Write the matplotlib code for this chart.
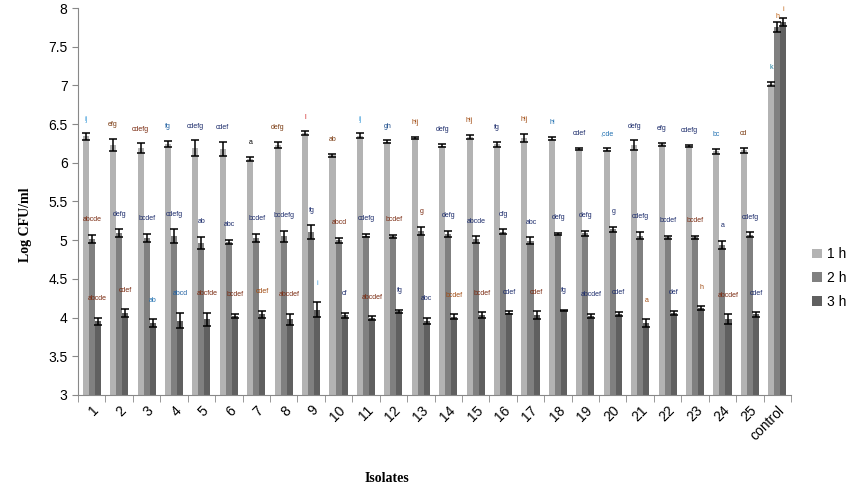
import numpy as np
import matplotlib.pyplot as plt
from matplotlib.ticker import MultipleLocator, FixedLocator

isolates = [str(i) for i in range(1, 26)] + ['control']

h1 = [6.34, 6.23, 6.19, 6.24, 6.19, 6.18, 6.05, 6.23, 6.38, 6.10, 6.35, 6.27, 6.32,
      6.22, 6.33, 6.24, 6.32, 6.31, 6.18, 6.17, 6.23, 6.24, 6.22, 6.15, 6.16, 7.02]
h1_err = [0.04, 0.08, 0.06, 0.04, 0.10, 0.09, 0.025, 0.045, 0.025, 0.02, 0.03, 0.02, 0.015,
          0.02, 0.025, 0.03, 0.05, 0.02, 0.01, 0.02, 0.06, 0.02, 0.01, 0.03, 0.03, 0.03]
h2 = [5.02, 5.09, 5.03, 5.05, 4.96, 4.98, 5.03, 5.05, 5.10, 5.00, 5.06, 5.05, 5.12,
      5.08, 5.01, 5.11, 4.99, 5.08, 5.09, 5.14, 5.06, 5.04, 5.04, 4.94, 5.07, 7.75]
h2_err = [0.05, 0.05, 0.05, 0.09, 0.08, 0.025, 0.05, 0.07, 0.09, 0.03, 0.02, 0.02, 0.05,
          0.04, 0.04, 0.03, 0.045, 0.015, 0.03, 0.03, 0.045, 0.02, 0.02, 0.055, 0.03, 0.065]
h3 = [3.95, 4.06, 3.93, 3.96, 3.98, 4.02, 4.04, 3.98, 4.10, 4.03, 3.99, 4.08, 3.96,
      4.01, 4.03, 4.06, 4.03, 4.09, 4.02, 4.05, 3.93, 4.06, 4.12, 3.98, 4.04, 7.82]
h3_err = [0.05, 0.05, 0.05, 0.10, 0.085, 0.03, 0.05, 0.07, 0.095, 0.03, 0.025, 0.02, 0.04,
          0.03, 0.04, 0.02, 0.05, 0.01, 0.03, 0.025, 0.05, 0.025, 0.025, 0.065, 0.03, 0.055]

lab1 = ['ij', 'efg', 'cdefg', 'fg', 'cdefg', 'cdef', 'a', 'defg', 'l', 'ab', 'ij', 'gh', 'hij',
        'defg', 'hij', 'fg', 'hij', 'hi', 'cdef', ',cde', 'defg', 'efg', 'cdefg', 'bc', 'cd', 'k']
lab2 = ['abcde', 'defg', 'bcdef', 'cdefg', 'ab', 'abc', 'bcdef', 'bcdefg', 'fg', 'abcd', 'cdefg',
        'bcdef', 'g', 'defg', 'abcde', 'cfg', 'abc', 'defg', 'defg', 'g', 'cdefg', 'bcdef',
        'bcdef', 'a', 'cdefg', 'h']
lab3 = ['abcde', 'cdef', 'ab', 'abcd', 'abcfde', 'bcdef', 'cdef', 'abcdef', 'i', 'cf', 'abcdef',
        'fg', 'abc', 'bcdef', 'bcdef', 'cdef', 'cdef', 'fg', 'abcdef', 'cdef', 'a', 'def', 'h',
        'abcdef', 'cdef', 'i']

col1 = ['#3a9ad9', '#7a3a10', '#7a2a10', '#1f5fa0', '#1a2a6a', '#1a2a6a', '#000000', '#7a3a10',
        '#d02020', '#7a3a10', '#3a9ad9', '#1a4a8a', '#a04a10', '#1a2a6a', '#a04a10', '#1a2a6a',
        '#a04a10', '#1f6fb0', '#1a2a6a', '#1f6fb0', '#1a2a6a', '#1a2a6a', '#1a2a6a', '#1f6fb0',
        '#7a3a10', '#1a7a9a']
col2 = ['#7a2a10', '#1a2a6a', '#1a2a6a', '#1a2a6a', '#1a2a6a', '#1a2a6a', '#1a2a6a', '#1a2a6a',
        '#1a2a6a', '#7a2a10', '#1a2a6a', '#7a2a10', '#7a2a10', '#1a2a6a', '#1a2a6a', '#1a2a6a',
        '#1a2a6a', '#1a2a6a', '#1a2a6a', '#1a2a6a', '#1a2a6a', '#1a2a6a', '#7a2a10', '#1a2a6a',
        '#1a2a6a', '#c06010']
col3 = ['#7a2a10', '#7a2a10', '#1f6fb0', '#1f5fa0', '#7a2a10', '#7a2a10', '#a04a10', '#7a2a10',
        '#3a9ad9', '#1a2a6a', '#7a2a10', '#1a2a6a', '#1a2a6a', '#a04a10', '#7a2a10', '#1a2a6a',
        '#7a2a10', '#1a2a6a', '#1a2a6a', '#1a2a6a', '#a04a10', '#1a2a6a', '#a04a10', '#7a2a10',
        '#1a2a6a', '#c06010']

plt.rcParams['font.family'] = ['Liberation Sans', 'DejaVu Sans']

fig = plt.figure(figsize=(8.46, 4.88), dpi=100)
ax = fig.add_axes([0.0922, 0.1906, 0.8428, 0.793])

x = np.arange(len(isolates))
w = 0.22
ekw = dict(ecolor='black', elinewidth=1.1, capsize=2.6, capthick=1.1)
ax.bar(x - w, h1, w, yerr=h1_err, color='#b3b3b3', label='1 h', error_kw=ekw)
ax.bar(x, h2, w, yerr=h2_err, color='#808080', label='2 h', error_kw=ekw)
ax.bar(x + w, h3, w, yerr=h3_err, color='#606060', label='3 h', error_kw=ekw)

# significance letters above each bar (kept inside the top of the figure)
for i in range(len(isolates)):
    ax.text(x[i] - w, h1[i] + h1_err[i] + 0.14, lab1[i], fontsize=5, color=col1[i],
            ha='center', va='bottom', clip_on=False)
    ax.text(x[i] + 0.02, min(h2[i] + h2_err[i] + 0.15, 7.84), lab2[i], fontsize=5,
            color=col2[i], ha='center', va='bottom', clip_on=False)
    ax.text(x[i] + w, min(h3[i] + h3_err[i] + 0.2, 7.93), lab3[i], fontsize=5, color=col3[i],
            ha='center', va='bottom', clip_on=False)

ax.set_xlim(-0.5, len(isolates) - 0.5)
ax.set_ylim(3, 8)
ax.yaxis.set_major_locator(MultipleLocator(0.5))
ax.set_yticklabels([f'{v:g}' for v in ax.get_yticks()])
ax.tick_params(axis='y', labelsize=10, length=4, direction='out', color='#888888')

ax.set_xticks(x)
ax.set_xticklabels(isolates, rotation=45, ha='right', va='top', rotation_mode='anchor', fontsize=10)
ax.tick_params(axis='x', which='major', length=0, pad=6)
ax.xaxis.set_minor_locator(FixedLocator(np.arange(-0.5, len(isolates), 1)))
ax.tick_params(axis='x', which='minor', length=5, direction='out', color='#888888')

for s in ['top', 'right']:
    ax.spines[s].set_visible(False)
ax.spines['left'].set_color('#888888')
ax.spines['bottom'].set_color('#888888')

ax.set_ylabel('Log CFU/ml', fontsize=10, fontweight='bold', family='Liberation Serif')
ax.yaxis.set_label_coords(-0.065, 0.44)
ax.set_xlabel('Isolates', fontsize=10, fontweight='bold', family='Liberation Serif')
ax.xaxis.set_label_coords(0.433, -0.2)

fig.legend(loc='center left', bbox_to_anchor=(0.945, 0.43), frameon=False, fontsize=10,
           handlelength=0.7, handleheight=0.7, handletextpad=0.4, labelspacing=0.7)

fig.savefig('out.png', dpi=100)
